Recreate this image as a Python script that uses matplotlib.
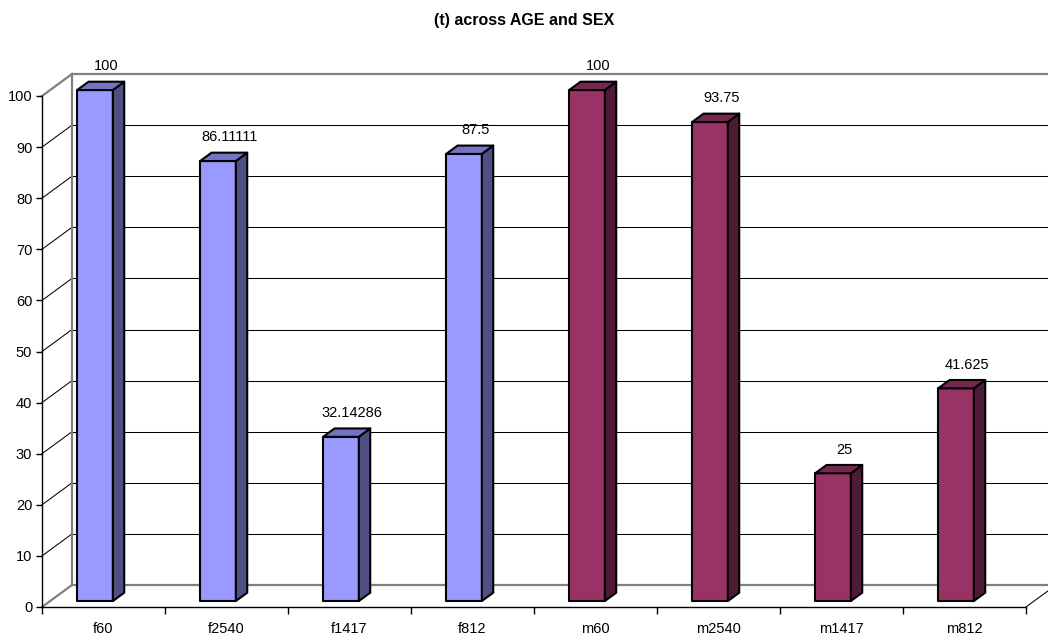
import matplotlib.pyplot as plt
from matplotlib.patches import Polygon

plt.rcParams['font.family'] = ['Liberation Sans', 'DejaVu Sans']

categories = ["f60", "f2540", "f1417", "f812", "m60", "m2540", "m1417", "m812"]
values = [100, 86.11111, 32.14286, 87.5, 100, 93.75, 25, 41.625]
value_labels = ["100", "86.11111", "32.14286", "87.5", "100", "93.75", "25", "41.625"]
y_ticks = list(range(0, 101, 10))

# front / side / top shades for the two sexes
female = ("#9999ff", "#4f4f85", "#7474c4")
male = ("#993366", "#4f1a36", "#762750")

fig = plt.figure(figsize=(10.48, 6.37), dpi=100)
W, H = 1048, 637
ax = fig.add_axes([42 / W, (637 - 607) / H, (1026 - 42) / W, (607 - 96) / H])
ax.set_xlim(0, len(categories))
ax.set_ylim(0, 100)

# oblique depth offset in data units (30 px right, 22 px up)
DX = 30 / 123.0
DY = 22 / 5.11
GRAY = "#808080"

# walls: left side wall and back wall
for v in y_ticks:
    c, lw = (GRAY, 1.6) if v in (0, 100) else ("black", 0.75)
    ax.plot([0, DX], [v, v + DY], color=c, lw=lw, clip_on=False, zorder=1)
    ax.plot([DX, len(categories) + 2 * DX], [v + DY, v + DY], color=c, lw=lw,
            clip_on=False, zorder=1)
ax.plot([DX, DX], [DY, 100 + DY], color=GRAY, lw=1.6, clip_on=False, zorder=1)
ax.plot([len(categories), len(categories) + DX], [0, DY], color="black", lw=0.75,
        clip_on=False, zorder=1)

d0, d1 = 0.27, 0.65
for i, (v, lab) in enumerate(zip(values, value_labels)):
    front, side, top = female if categories[i].startswith("f") else male
    x0, x1 = i + 0.22, i + 0.51
    fx, fy = d0 * DX, d0 * DY
    bx, by = d1 * DX, d1 * DY
    faces = [
        ([(x0 + fx, fy), (x1 + fx, fy), (x1 + fx, v + fy), (x0 + fx, v + fy)], front),
        ([(x1 + fx, fy), (x1 + bx, by), (x1 + bx, v + by), (x1 + fx, v + fy)], side),
        ([(x0 + fx, v + fy), (x1 + fx, v + fy), (x1 + bx, v + by), (x0 + bx, v + by)], top),
    ]
    for pts, col in faces:
        ax.add_patch(Polygon(pts, closed=True, facecolor=col, edgecolor="black",
                             lw=1.5, joinstyle="round", clip_on=False, zorder=3))
    ax.annotate(lab, ((x0 + x1) / 2 + bx, v + by), xytext=(0, 11),
                textcoords="offset points", ha="center", va="center",
                fontsize=10.5, annotation_clip=False, zorder=4)

for s in ("top", "right"):
    ax.spines[s].set_visible(False)
ax.spines["left"].set_linewidth(1.0)
ax.spines["bottom"].set_linewidth(1.0)
ax.spines["left"].set_zorder(2)
ax.spines["bottom"].set_zorder(2)

ax.set_yticks(y_ticks)
ax.set_xticks(range(len(categories) + 1))
ax.set_xticklabels([])
ax.set_xticks([i + 0.5 for i in range(len(categories))], minor=True)
ax.set_xticklabels(categories, minor=True)
ax.tick_params(axis="y", length=4, width=1, pad=3, labelsize=10.5)
ax.tick_params(axis="x", which="major", length=5, width=1)
ax.tick_params(axis="x", which="minor", length=0, pad=11, labelsize=10.5)
ax.patch.set_visible(False)

fig.text(0.5, 1 - 20 / H, "(t) across AGE and SEX", ha="center", va="center",
         fontsize=11.5, fontweight="bold")

fig.savefig("out.png", dpi=100)
